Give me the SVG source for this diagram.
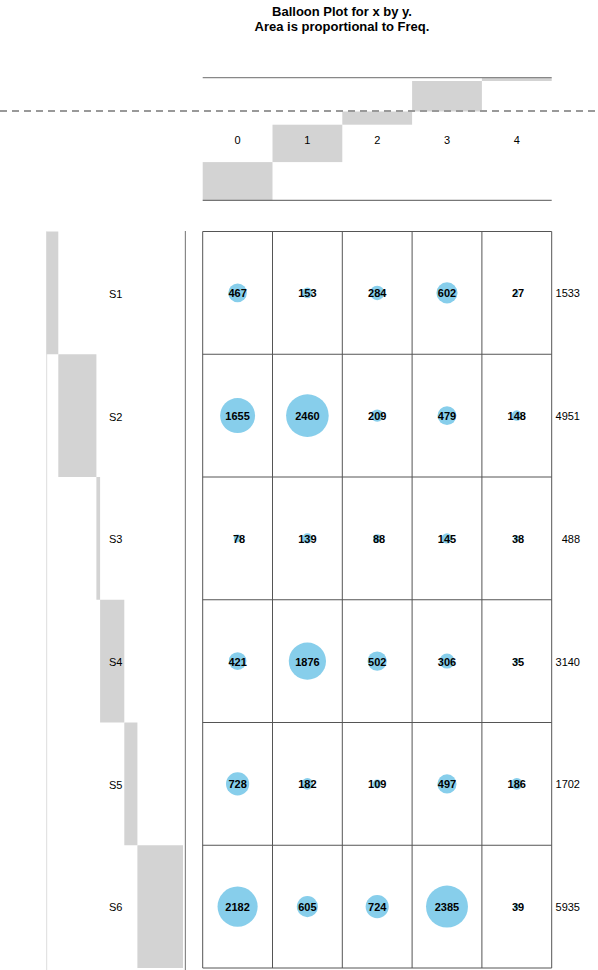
<svg xmlns="http://www.w3.org/2000/svg" width="598" height="970" viewBox="0 0 598 970">
<style>
.title{font-family:"Liberation Sans",Arial,sans-serif;font-size:13px;font-weight:bold;text-anchor:middle;fill:#000}
.lab{font-family:"Liberation Sans",Arial,sans-serif;font-size:11px;fill:#000}
.mid{text-anchor:middle}
.end{text-anchor:end}
.val{font-family:"Liberation Sans",Arial,sans-serif;font-size:11px;font-weight:bold;text-anchor:middle;fill:#000}
.bar{fill:#d3d3d3}
.ball{fill:#87ceeb}
.grid{stroke:#555;stroke-width:1;fill:none}
</style>
<rect width="598" height="970" fill="#fff"/>
<g id="title">
<text class="title" x="342" y="15.5">Balloon Plot for x by y.</text>
<text class="title" x="342" y="31">Area is proportional to Freq.</text>
</g>
<g id="top-margin">
<rect class="bar" x="202.7" y="162.1" width="69.8" height="38.2"/>
<rect class="bar" x="272.5" y="124.7" width="69.8" height="37.4"/>
<rect class="bar" x="342.3" y="111.5" width="69.8" height="13.2"/>
<rect class="bar" x="412.1" y="81" width="69.8" height="30.5"/>
<rect class="bar" x="481.9" y="77.7" width="69.8" height="3.3"/>
<line x1="202.7" y1="77.7" x2="551.7" y2="77.7" stroke="#888" stroke-width="1.3"/>
<line x1="202.7" y1="200.3" x2="551.7" y2="200.3" stroke="#555" stroke-width="1"/>
<line x1="0" y1="111" x2="598" y2="111" stroke="#999" stroke-width="2" stroke-dasharray="7 5"/>
<text class="lab mid" x="237.6" y="144">0</text>
<text class="lab mid" x="307.4" y="144">1</text>
<text class="lab mid" x="377.2" y="144">2</text>
<text class="lab mid" x="447" y="144">3</text>
<text class="lab mid" x="516.8" y="144">4</text>
</g>
<g id="left-margin">
<line x1="46.7" y1="231.5" x2="46.7" y2="970" stroke="#ddd" stroke-width="1"/>
<rect class="bar" x="46.5" y="231.5" width="11.8" height="122.75"/>
<rect class="bar" x="58.3" y="354.25" width="38.1" height="122.75"/>
<rect class="bar" x="96.4" y="477" width="3.7" height="122.75"/>
<rect class="bar" x="100.1" y="599.75" width="24.2" height="122.75"/>
<rect class="bar" x="124.3" y="722.5" width="13.1" height="122.75"/>
<rect class="bar" x="137.4" y="845.25" width="45.6" height="122.75"/>
<line x1="185.4" y1="231" x2="185.4" y2="970" stroke="#888" stroke-width="1.2"/>
<text class="lab" x="109" y="298">S1</text>
<text class="lab" x="109" y="420.5">S2</text>
<text class="lab" x="109" y="543">S3</text>
<text class="lab" x="109" y="665.5">S4</text>
<text class="lab" x="109" y="788.5">S5</text>
<text class="lab" x="109" y="911">S6</text>
</g>
<g id="grid">
<path class="grid" d="M202.7 231.5V968M272.5 231.5V968M342.3 231.5V968M412.1 231.5V968M481.9 231.5V968M551.7 231.5V968M202.7 231.5H551.7M202.7 354.25H551.7M202.7 477H551.7M202.7 599.75H551.7M202.7 722.5H551.7M202.7 845.25H551.7M202.7 968H551.7"/>
</g>
<g id="balloons">
<circle class="ball" cx="237.6" cy="292.9" r="9.28"/>
<circle class="ball" cx="307.4" cy="292.9" r="5.31"/>
<circle class="ball" cx="377.2" cy="292.9" r="7.24"/>
<circle class="ball" cx="447" cy="292.9" r="10.54"/>
<circle class="ball" cx="516.8" cy="292.9" r="2.23"/>
<circle class="ball" cx="237.6" cy="415.6" r="17.48"/>
<circle class="ball" cx="307.4" cy="415.6" r="21.31"/>
<circle class="ball" cx="377.2" cy="415.6" r="6.21"/>
<circle class="ball" cx="447" cy="415.6" r="9.4"/>
<circle class="ball" cx="516.8" cy="415.6" r="5.23"/>
<circle class="ball" cx="237.6" cy="538.4" r="3.79"/>
<circle class="ball" cx="307.4" cy="538.4" r="5.07"/>
<circle class="ball" cx="377.2" cy="538.4" r="4.03"/>
<circle class="ball" cx="447" cy="538.4" r="5.17"/>
<circle class="ball" cx="516.8" cy="538.4" r="2.65"/>
<circle class="ball" cx="237.6" cy="661.1" r="8.81"/>
<circle class="ball" cx="307.4" cy="661.1" r="18.61"/>
<circle class="ball" cx="377.2" cy="661.1" r="9.63"/>
<circle class="ball" cx="447" cy="661.1" r="7.52"/>
<circle class="ball" cx="516.8" cy="661.1" r="2.54"/>
<circle class="ball" cx="237.6" cy="783.9" r="11.59"/>
<circle class="ball" cx="307.4" cy="783.9" r="5.8"/>
<circle class="ball" cx="377.2" cy="783.9" r="4.49"/>
<circle class="ball" cx="447" cy="783.9" r="9.58"/>
<circle class="ball" cx="516.8" cy="783.9" r="5.86"/>
<circle class="ball" cx="237.6" cy="906.6" r="20.07"/>
<circle class="ball" cx="307.4" cy="906.6" r="10.57"/>
<circle class="ball" cx="377.2" cy="906.6" r="11.56"/>
<circle class="ball" cx="447" cy="906.6" r="20.98"/>
<circle class="ball" cx="516.8" cy="906.6" r="2.68"/>
</g>
<g id="values">
<text class="val" x="237.6" y="297.3">467</text>
<text class="val" x="307.4" y="297.3">153</text>
<text class="val" x="377.2" y="297.3">284</text>
<text class="val" x="447" y="297.3">602</text>
<text class="val" x="518" y="297.3">27</text>
<text class="val" x="237.6" y="420">1655</text>
<text class="val" x="307.4" y="420">2460</text>
<text class="val" x="377.2" y="420">209</text>
<text class="val" x="447" y="420">479</text>
<text class="val" x="516.8" y="420">148</text>
<text class="val" x="239" y="542.8">78</text>
<text class="val" x="307.4" y="542.8">139</text>
<text class="val" x="379" y="542.8">88</text>
<text class="val" x="447" y="542.8">145</text>
<text class="val" x="518" y="542.8">38</text>
<text class="val" x="237.6" y="665.5">421</text>
<text class="val" x="307.4" y="665.5">1876</text>
<text class="val" x="377.2" y="665.5">502</text>
<text class="val" x="447" y="665.5">306</text>
<text class="val" x="518" y="665.5">35</text>
<text class="val" x="237.6" y="788.3">728</text>
<text class="val" x="307.4" y="788.3">182</text>
<text class="val" x="377.2" y="788.3">109</text>
<text class="val" x="447" y="788.3">497</text>
<text class="val" x="516.8" y="788.3">186</text>
<text class="val" x="237.6" y="911">2182</text>
<text class="val" x="307.4" y="911">605</text>
<text class="val" x="377.2" y="911">724</text>
<text class="val" x="447" y="911">2385</text>
<text class="val" x="518" y="911">39</text>
</g>
<g id="row-totals">
<text class="lab end" x="580" y="297.3">1533</text>
<text class="lab end" x="580" y="420">4951</text>
<text class="lab end" x="580" y="542.8">488</text>
<text class="lab end" x="580" y="665.5">3140</text>
<text class="lab end" x="580" y="788.3">1702</text>
<text class="lab end" x="580" y="911">5935</text>
</g>
</svg>
